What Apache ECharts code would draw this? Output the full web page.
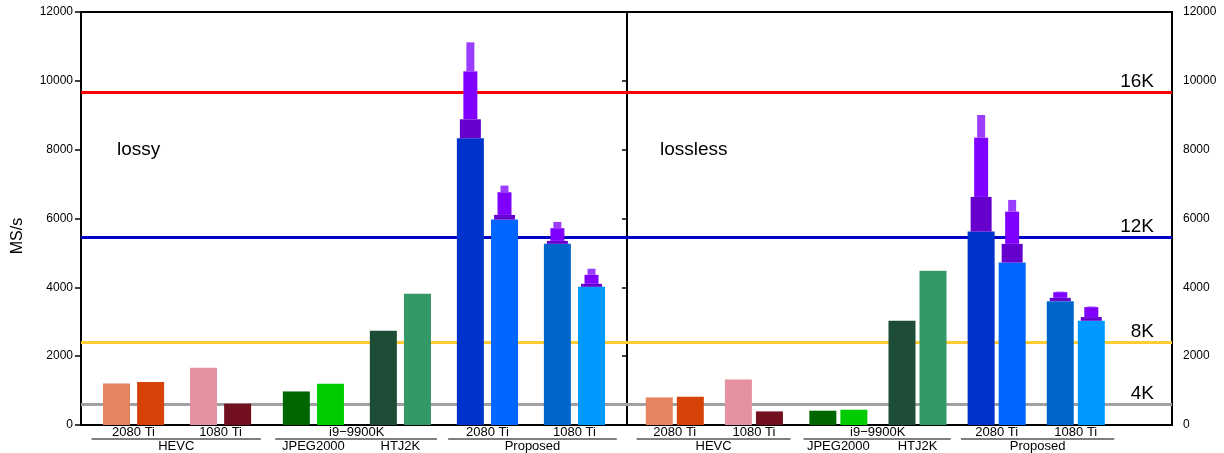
<!DOCTYPE html>
<html>
<head>
<meta charset="utf-8">
<script src="https://cdn.jsdelivr.net/npm/echarts@6/dist/echarts.min.js"></script>
<style>
  html, body { margin: 0; padding: 0; background: #fff; }
  #chart { width: 1224px; height: 453px; }
</style>
</head>
<body>
<div id="chart"></div>
<script>
// Bar slots along the x scale (same layout in both panels)
const barPos = [1.04, 2.04, 3.59, 4.59, 6.31, 7.31, 8.86, 9.86, 11.41, 12.41, 13.96, 14.96];
const barColors = ['#e5845e', '#d54309', '#e591a1', '#73101f',
                   '#006600', '#00cc00', '#1e4d37', '#339966',
                   '#0033cc', '#0066ff', '#0066cc', '#0099ff'];

// Throughput in MS/s — base bars
const lossyBase    = [1208, 1248, 1663, 618, 975, 1199, 2740, 3814, 8331, 5968, 5263, 4015];
const losslessBase = [801, 821, 1324, 395, 415, 444, 3027, 4479, 5620, 4720, 3599, 3028];

// Stacked tiers on top of the proposed bars (top value of each tier)
const lossyTier1    = ['-', '-', '-', '-', '-', '-', '-', '-', 8882, 6104, 5350, 4102];
const lossyTier2    = ['-', '-', '-', '-', '-', '-', '-', '-', 10276, 6763, 5718, 4363];
const lossyTier3    = ['-', '-', '-', '-', '-', '-', '-', '-', 11118, 6955, 5901, 4540];
const losslessTier1 = ['-', '-', '-', '-', '-', '-', '-', '-', 6627, 5263, 3695, 3135];
const losslessTier2 = ['-', '-', '-', '-', '-', '-', '-', '-', 8348, 6200, 3860, 3425];
const losslessTier3 = ['-', '-', '-', '-', '-', '-', '-', '-', 9007, 6540, 3875, 3443];
const tierColors = ['#6600cc', '#8000ff', '#9b3dff'];
const tierWidths = [27, 21, 14, 8];

// Real-time resolution thresholds
const refNames  = ['16K', '12K', '8K', '4K'];
const refValues = [9676, 5443, 2414, 608];
const refColors = ['#ff0000', '#0000c8', '#ffcc33', '#a0a0a4'];

// Two-level x labels
const upperText = ['2080 Ti', '1080 Ti', 'i9\u22129900K', '2080 Ti', '1080 Ti'];
const upperPos  = [1.54, 4.09, 8.08, 11.91, 14.46];
const lowerText = ['HEVC', 'JPEG2000', 'HTJ2K', 'Proposed'];
const lowerPos  = [2.79, 6.81, 9.36, 13.23];
const groupSpans = [[0.31, 5.27], [5.69, 10.43], [10.76, 15.70]];

const yTicks = { min: 0, max: 12000, interval: 2000 };
const FONT = '"Liberation Sans", Arial, sans-serif';

function barData(base, t1, t2, t3) {
  return barPos.map((x, i) => [x, base[i], t1[i], t2[i], t3[i]]);
}

function renderBar(params, api) {
  const i = params.dataIndex;
  const x = api.value(0);
  const children = [];
  let prev = 0;
  for (let k = 0; k < 4; k++) {
    const v = api.value(k + 1);
    if (v == null || isNaN(v)) continue;
    const top = api.coord([x, v]);
    const bot = api.coord([x, prev]);
    const w = tierWidths[k];
    children.push({
      type: 'rect',
      shape: { x: top[0] - w / 2, y: top[1], width: w, height: bot[1] - top[1] },
      style: { fill: k === 0 ? barColors[i] : tierColors[k - 1] }
    });
    prev = v;
  }
  return { type: 'group', children };
}

function textRenderer(texts, dy) {
  return function (params, api) {
    const p = api.coord([api.value(0), 0]);
    return {
      type: 'text',
      style: {
        text: texts[params.dataIndex], x: p[0], y: p[1] + dy,
        align: 'center', verticalAlign: 'middle',
        font: '13px ' + FONT, fill: '#000'
      }
    };
  };
}

function renderSpan(params, api) {
  const a = api.coord([api.value(0), 0]);
  const b = api.coord([api.value(1), 0]);
  return {
    type: 'line',
    shape: { x1: a[0], y1: a[1] + 14, x2: b[0], y2: b[1] + 14 },
    style: { stroke: '#555', lineWidth: 1.3 }
  };
}

function refLines(withLabels) {
  return {
    silent: true,
    symbol: 'none',
    z: 1,
    data: refValues.map((v, i) => ({
      name: refNames[i], yAxis: v,
      lineStyle: { color: refColors[i], width: 3, type: 'solid' }
    })),
    label: withLabels ? {
      show: true, position: 'insideEndTop', formatter: '{b}',
      fontFamily: FONT, fontSize: 19, color: '#000',
      padding: [0, 17, 0, 0], distance: 1
    } : { show: false },
    emphasis: { disabled: true }
  };
}

function panelSeries(g, yIdx, base, t1, t2, t3, labels) {
  return [
    { type: 'line', xAxisIndex: g, yAxisIndex: yIdx, data: [], z: 1,
      markLine: refLines(labels) },
    { type: 'custom', xAxisIndex: g, yAxisIndex: yIdx, z: 10, clip: false,
      renderItem: renderBar, data: barData(base, t1, t2, t3) },
    { type: 'custom', xAxisIndex: g, yAxisIndex: yIdx, z: 10, clip: false,
      renderItem: textRenderer(upperText, 7), data: upperPos.map(x => [x]) },
    { type: 'custom', xAxisIndex: g, yAxisIndex: yIdx, z: 10, clip: false,
      renderItem: textRenderer(lowerText, 21.5), data: lowerPos.map(x => [x]) },
    { type: 'custom', xAxisIndex: g, yAxisIndex: yIdx, z: 10, clip: false,
      renderItem: renderSpan, data: groupSpans }
  ];
}

const chart = echarts.init(document.getElementById('chart'), null, { renderer: 'canvas' });

const yBase = {
  type: 'value', ...yTicks,
  splitLine: { show: false },
  axisLine: { show: true, lineStyle: { color: '#000', width: 2 } },
  axisLabel: { fontFamily: FONT, fontSize: 12, color: '#000', formatter: v => String(v) }
};

chart.setOption({
  animation: false,
  backgroundColor: '#fff',
  grid: [
    { left: 81, right: 597, top: 12, bottom: 28, show: true, borderColor: '#000', borderWidth: 2 },
    { left: 627, right: 52, top: 12, bottom: 28, show: true, borderColor: '#000', borderWidth: 2 }
  ],
  xAxis: [
    { type: 'value', gridIndex: 0, min: 0, max: 16, show: false },
    { type: 'value', gridIndex: 1, min: 0, max: 17.56, show: false }
  ],
  yAxis: [
    { ...yBase, gridIndex: 0, position: 'left',
      axisTick: { show: true, inside: false, length: 6, lineStyle: { color: '#000', width: 1.5 } },
      axisLabel: { ...yBase.axisLabel, margin: 8 } },
    { ...yBase, gridIndex: 0, position: 'right',
      axisTick: { show: true, inside: true, length: 5, lineStyle: { color: '#000', width: 1.5 } },
      axisLabel: { show: false } },
    { ...yBase, gridIndex: 1, position: 'right',
      axisTick: { show: true, inside: true, length: 5, lineStyle: { color: '#000', width: 1.5 } },
      axisLabel: { ...yBase.axisLabel, margin: 11 } }
  ],
  graphic: [
    { type: 'text', x: 18, y: 236, rotation: Math.PI / 2,
      style: { text: 'MS/s', font: '16px ' + FONT, fill: '#000', align: 'center', verticalAlign: 'middle' } },
    { type: 'text', x: 117, y: 150,
      style: { text: 'lossy', font: '19px ' + FONT, fill: '#000', align: 'left', verticalAlign: 'middle' } },
    { type: 'text', x: 660, y: 150,
      style: { text: 'lossless', font: '19px ' + FONT, fill: '#000', align: 'left', verticalAlign: 'middle' } }
  ],
  series: [
    ...panelSeries(0, 0, lossyBase, lossyTier1, lossyTier2, lossyTier3, false),
    ...panelSeries(1, 2, losslessBase, losslessTier1, losslessTier2, losslessTier3, true)
  ]
});
</script>
</body>
</html>
